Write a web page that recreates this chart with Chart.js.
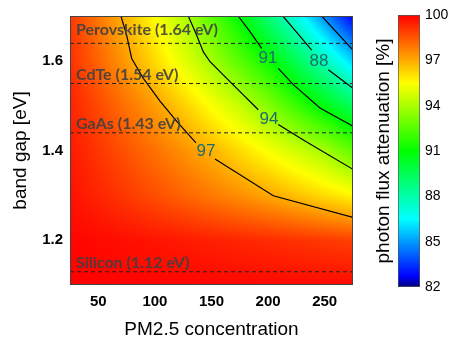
<!DOCTYPE html>
<html>
<head>
<meta charset="utf-8">
<script src="https://cdn.jsdelivr.net/npm/chart.js@4.4.1/dist/chart.umd.min.js"></script>
<style>
  html, body { margin: 0; padding: 0; background: #fff; }
  #wrap { position: relative; width: 459px; height: 340px; }
  #main { position: absolute; left: 0; top: 0; }
  #cbar { position: absolute; left: 360px; top: 0; }
</style>
</head>
<body>
<div id="wrap">
  <canvas id="main" width="459" height="340"></canvas>
  <canvas id="cbar" width="99" height="340"></canvas>
</div>
<script>
// axis ticks
const pmTicks = [50, 100, 150, 200, 250];
const gapTicks = [1.2, 1.4, 1.6];
const cbTicks = [82, 85, 88, 91, 94, 97, 100];

// attenuation surface, rows = band gap, cols = PM2.5
const pmGrid = [25, 50, 75, 100, 125, 150, 175, 200, 225, 250, 275];
const gapGrid = [1.1, 1.2, 1.3, 1.4, 1.5, 1.6, 1.7];
const attenuation = [
  [99.99, 99.97, 99.95, 99.93, 99.92, 99.90, 99.88, 99.86, 99.84, 99.82, 99.80],
  [99.92, 99.83, 99.74, 99.64, 99.54, 99.44, 99.33, 99.23, 99.12, 99.01, 98.90],
  [99.70, 99.36, 99.00, 98.63, 98.25, 97.86, 97.47, 97.07, 96.59, 96.11, 95.63],
  [99.56, 99.06, 98.54, 98.00, 97.44, 96.83, 96.11, 95.38, 94.66, 93.89, 92.69],
  [99.40, 98.71, 97.99, 97.24, 96.35, 95.42, 94.48, 93.34, 91.99, 90.67, 89.38],
  [99.17, 98.23, 97.23, 96.14, 95.03, 93.89, 92.54, 91.18, 89.50, 87.74, 85.85],
  [99.00, 97.90, 96.75, 95.49, 94.23, 92.60, 90.89, 88.99, 86.95, 84.77, 82.60]
];

// contour lines [pm, gap], split where the label sits
const contour97 = [
  [[70, 1.7], [75.1, 1.657], [79.5, 1.605], [85.3, 1.58], [89.8, 1.561], [104.5, 1.51], [119.3, 1.465], [136.3, 1.417]],
  [[153.1, 1.381], [204.6, 1.299], [275, 1.251]]
];
const contour94 = [
  [[129.5, 1.7], [136.9, 1.657], [142.8, 1.62], [148.7, 1.598], [163.4, 1.561], [178.1, 1.524], [191.3, 1.491]],
  [[209, 1.458], [232.6, 1.421], [275, 1.358]]
];
const contour91 = [
  [[173.5, 1.7], [184, 1.665], [194.3, 1.628]],
  [[209, 1.583], [222.3, 1.547], [245.8, 1.495], [275, 1.454]]
];
const contour88 = [
  [[213, 1.7], [226.4, 1.66], [238.5, 1.624]],
  [[253.2, 1.58], [275, 1.539]]
];
const contour85 = [
  [[247.3, 1.7], [275, 1.624]]
];
const contourLevels = [97, 94, 91, 88];
const contourLabelPm = [145.1, 200.8, 199.9, 245];
const contourLabelGap = [1.399, 1.47, 1.605, 1.598];

// material band gaps
const materials = ['Perovskite', 'CdTe', 'GaAs', 'Silicon'];
const materialGap = [1.64, 1.54, 1.43, 1.12];
const materialLine = [1.639, 1.5495, 1.4394, 1.1295];

// colour map
const cmapStops = [82, 82.7, 86.5, 91, 95.5, 100];
const cmapColors = [[0, 0, 120], [0, 0, 255], [0, 255, 255], [0, 255, 0], [255, 255, 0], [255, 0, 0]];

function colorAt(v) {
  if (v <= cmapStops[0]) return cmapColors[0];
  for (let i = 1; i < cmapStops.length; i++) {
    if (v <= cmapStops[i]) {
      const t = (v - cmapStops[i - 1]) / (cmapStops[i] - cmapStops[i - 1]);
      const a = cmapColors[i - 1], b = cmapColors[i];
      return [a[0] + (b[0] - a[0]) * t, a[1] + (b[1] - a[1]) * t, a[2] + (b[2] - a[2]) * t];
    }
  }
  return cmapColors[cmapColors.length - 1];
}

function findCell(grid, v) {
  let i = 0;
  while (i < grid.length - 2 && v > grid[i + 1]) i++;
  let t = (v - grid[i]) / (grid[i + 1] - grid[i]);
  return [i, Math.max(0, Math.min(1, t))];
}

function valueAt(pm, gap) {
  const [i, tx] = findCell(pmGrid, pm);
  const [j, ty] = findCell(gapGrid, gap);
  const a = attenuation[j][i], b = attenuation[j][i + 1];
  const c = attenuation[j + 1][i], d = attenuation[j + 1][i + 1];
  return (a * (1 - tx) + b * tx) * (1 - ty) + (c * (1 - tx) + d * tx) * ty;
}

const heatmap = {
  id: 'heatmap',
  beforeDatasetsDraw(chart) {
    const { ctx, chartArea: a, scales: { x, y } } = chart;
    const left = Math.round(a.left), top = Math.round(a.top);
    const w = Math.round(a.right) - left, h = Math.round(a.bottom) - top;
    const img = ctx.createImageData(w, h);
    for (let j = 0; j < h; j++) {
      const gap = y.getValueForPixel(top + j + 0.5);
      for (let i = 0; i < w; i++) {
        const pm = x.getValueForPixel(left + i + 0.5);
        const c = colorAt(valueAt(pm, gap));
        const k = (j * w + i) * 4;
        img.data[k] = c[0];
        img.data[k + 1] = c[1];
        img.data[k + 2] = c[2];
        img.data[k + 3] = 255;
      }
    }
    ctx.putImageData(img, left, top);
  }
};

const overlay = {
  id: 'overlay',
  afterDatasetsDraw(chart) {
    const { ctx, chartArea: a, scales: { x, y } } = chart;
    ctx.save();
    // material labels
    ctx.font = 'bold 16px Lato';
    ctx.fillStyle = 'rgba(64,64,64,0.9)';
    ctx.textAlign = 'left';
    ctx.textBaseline = 'alphabetic';
    materials.forEach((m, i) => {
      ctx.fillText(m + ' (' + materialGap[i].toFixed(2) + ' eV)', a.left + 6, y.getPixelForValue(materialGap[i]) - 8);
    });
    // contour labels
    ctx.font = '17px "Liberation Sans"';
    ctx.fillStyle = '#1f6a72';
    ctx.textAlign = 'center';
    ctx.textBaseline = 'middle';
    contourLevels.forEach((lv, i) => {
      ctx.fillText(String(lv), x.getPixelForValue(contourLabelPm[i]), y.getPixelForValue(contourLabelGap[i]));
    });
    // frame
    ctx.strokeStyle = '#444';
    ctx.lineWidth = 1;
    ctx.strokeRect(a.left + 0.5, a.top + 0.5, a.right - a.left - 1, a.bottom - a.top - 1);
    ctx.restore();
  }
};

const datasets = [];
[contour97, contour94, contour91, contour88, contour85].forEach(c => {
  c.forEach(seg => {
    datasets.push({
      data: seg.map(p => ({ x: p[0], y: p[1] })),
      showLine: true, borderColor: '#000', borderWidth: 1.2,
      pointRadius: 0, tension: 0, fill: false
    });
  });
});
materialLine.forEach(v => {
  datasets.push({
    data: [{ x: 25, y: v }, { x: 275, y: v }],
    showLine: true, borderColor: '#222', borderWidth: 1, borderDash: [4, 3],
    pointRadius: 0, fill: false
  });
});

const tickFont = { family: 'Liberation Sans', size: 15, weight: 'bold' };
const titleFont = { family: 'Liberation Sans', size: 19, lineHeight: 1.1 };

new Chart(document.getElementById('main'), {
  type: 'scatter',
  data: { datasets },
  options: {
    responsive: false,
    animation: false,
    devicePixelRatio: 1,
    layout: { padding: { left: 0, right: 106, top: 14, bottom: 0 } },
    plugins: { legend: { display: false }, tooltip: { enabled: false } },
    scales: {
      x: {
        type: 'linear', min: 25, max: 275,
        grid: { display: false, drawTicks: false }, border: { display: false },
        afterBuildTicks: s => { s.ticks = pmTicks.map(v => ({ value: v })); },
        ticks: { font: tickFont, color: '#000', padding: 8, maxRotation: 0 },
        title: { display: true, text: 'PM2.5 concentration', font: titleFont, color: '#000', padding: { top: 0, bottom: 0 } },
        afterFit: s => { s.height = 55; }
      },
      y: {
        type: 'linear', min: 1.1, max: 1.7,
        grid: { display: false, drawTicks: false }, border: { display: false },
        afterBuildTicks: s => { s.ticks = gapTicks.map(v => ({ value: v })); },
        ticks: { font: tickFont, color: '#000', padding: 7, callback: v => v.toFixed(1) },
        title: { display: true, text: 'band gap [eV]', font: titleFont, color: '#000', padding: { top: 10, bottom: 0 } },
        afterFit: s => { s.width = 70; }
      }
    }
  },
  plugins: [heatmap, overlay]
});

// colour bar
function barGradient(context) {
  const chart = context.chart;
  if (!chart.chartArea) return null;
  const s = chart.scales.y;
  const lo = cbTicks[0], hi = cbTicks[cbTicks.length - 1];
  const g = chart.ctx.createLinearGradient(0, s.getPixelForValue(lo), 0, s.getPixelForValue(hi));
  cmapStops.forEach((v, i) => {
    const c = cmapColors[i];
    g.addColorStop((v - lo) / (hi - lo), 'rgb(' + c[0] + ',' + c[1] + ',' + c[2] + ')');
  });
  return g;
}

new Chart(document.getElementById('cbar'), {
  type: 'bar',
  data: {
    labels: [''],
    datasets: [{
      data: [[cbTicks[0], cbTicks[cbTicks.length - 1]]],
      backgroundColor: barGradient,
      borderColor: '#555', borderWidth: 1, borderSkipped: false,
      barPercentage: 1, categoryPercentage: 1, yAxisID: 'y'
    }]
  },
  options: {
    responsive: false,
    animation: false,
    devicePixelRatio: 1,
    layout: { padding: { left: 0, right: 0, top: 15, bottom: 53 } },
    plugins: { legend: { display: false }, tooltip: { enabled: false } },
    scales: {
      x: { display: false },
      y: {
        position: 'right', min: 82, max: 100,
        grid: { display: false, drawTicks: false }, border: { display: false },
        afterBuildTicks: s => { s.ticks = cbTicks.map(v => ({ value: v })); },
        ticks: { font: { family: 'Liberation Sans', size: 14 }, color: '#000', padding: 5 },
        afterFit: s => { s.width = 39; }
      },
      yl: {
        position: 'left', min: 82, max: 100,
        grid: { display: false, drawTicks: false }, border: { display: false },
        ticks: { display: false },
        title: { display: true, text: 'photon flux attenuation [%]', font: titleFont, color: '#000', padding: { top: 13, bottom: 0 } },
        afterFit: s => { s.width = 38; }
      }
    }
  }
});
</script>
</body>
</html>
